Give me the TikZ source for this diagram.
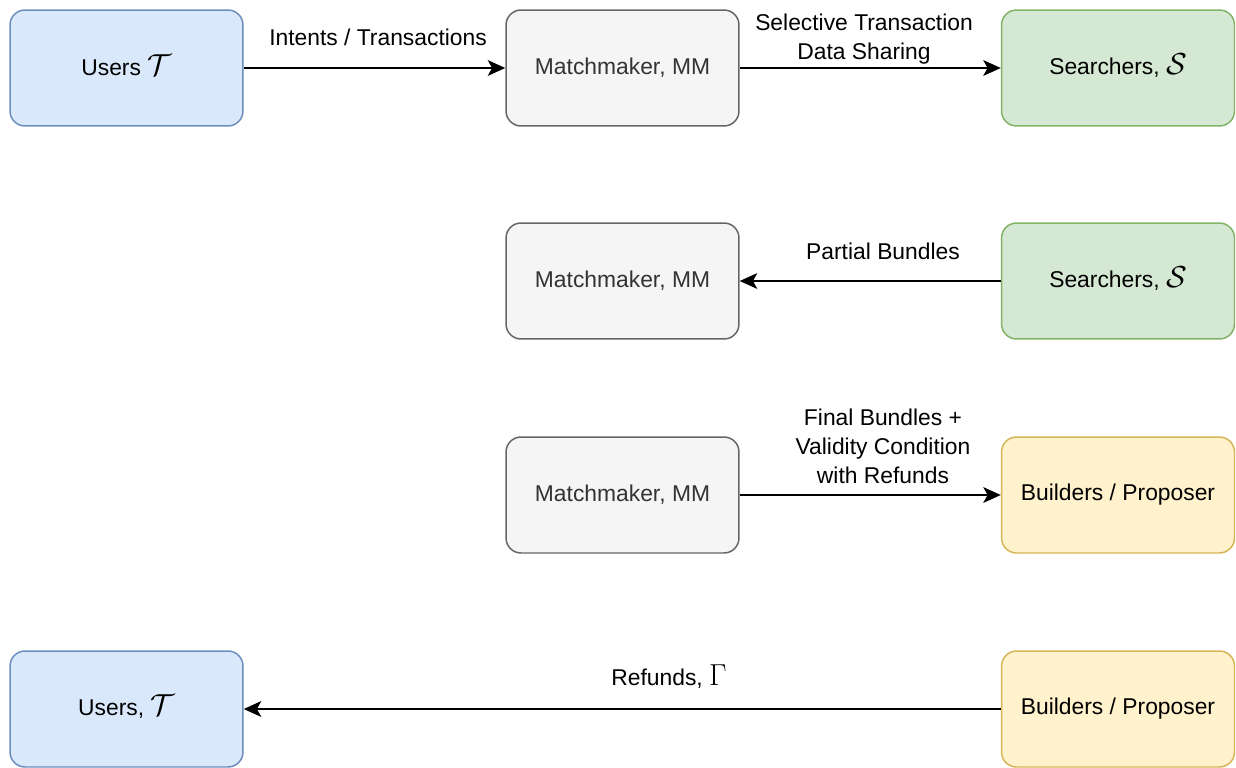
\documentclass[tikz,border=0pt]{standalone}
\usepackage{fontspec}
\setmainfont{Liberation Sans}
\usetikzlibrary{arrows.meta}
\definecolor{bluefill}{HTML}{DAE8FC}
\definecolor{bluedraw}{HTML}{6C8EBF}
\definecolor{grayfill}{HTML}{F5F5F5}
\definecolor{graydraw}{HTML}{666666}
\definecolor{graytext}{HTML}{333333}
\definecolor{greenfill}{HTML}{D5E8D4}
\definecolor{greendraw}{HTML}{82B366}
\definecolor{yellowfill}{HTML}{FFF2CC}
\definecolor{yellowdraw}{HTML}{D6B656}
\newcommand{\bigsym}[1]{\smash{\fontsize{17}{17}\selectfont$#1$}}
\begin{document}
\begin{tikzpicture}[x=0.02cm,y=-0.02cm,
  font=\fontsize{13}{16.5}\selectfont,
  box/.style={rounded corners=0.3cm,line width=0.85pt,minimum width=4.66cm,minimum height=2.32cm,align=center,inner sep=0pt},
  users/.style={box,fill=bluefill,draw=bluedraw},
  mm/.style={box,fill=grayfill,draw=graydraw,text=graytext},
  search/.style={box,fill=greenfill,draw=greendraw},
  build/.style={box,fill=yellowfill,draw=yellowdraw},
  flow/.style={line width=0.85pt,-{Stealth[length=10pt,width=9pt,inset=2.5pt]}},
  lbl/.style={align=center,inner sep=0pt}]
\useasboundingbox (0,0) rectangle (1236,767);
% row 1
\node[users] (users1) at (126.5,68) {Users \bigsym{\mathcal{T}}};
\node[mm] (mm1) at (622.5,68) {Matchmaker, MM};
\node[search] (search1) at (1118,68) {Searchers, \bigsym{\mathcal{S}}};
\draw[flow] (users1) -- (mm1);
\draw[flow] (mm1) -- (search1);
\node[lbl] (intents) at (378,37) {Intents / Transactions};
\node[lbl] (sharing) at (864,39) {Selective Transaction\\Data Sharing};
% row 2
\node[mm] (mm2) at (622.5,281) {Matchmaker, MM};
\node[search] (search2) at (1118,281) {Searchers, \bigsym{\mathcal{S}}};
\draw[flow] (search2) -- (mm2);
\node[lbl] (partial) at (883,251) {Partial Bundles};
% row 3
\node[mm] (mm3) at (622.5,495) {Matchmaker, MM};
\node[build] (build3) at (1118,495) {Builders / Proposer};
\draw[flow] (mm3) -- (build3);
\node[lbl] (final) at (883,446) {Final Bundles +\\Validity Condition\\with Refunds};
% row 4
\node[users] (users4) at (126.5,709) {Users, \bigsym{\mathcal{T}}};
\node[build] (build4) at (1118,709) {Builders / Proposer};
\draw[flow] (build4) -- (users4);
\node[lbl] (refunds) at (669,679) {Refunds, \bigsym{\Gamma}};
\end{tikzpicture}
\end{document}
